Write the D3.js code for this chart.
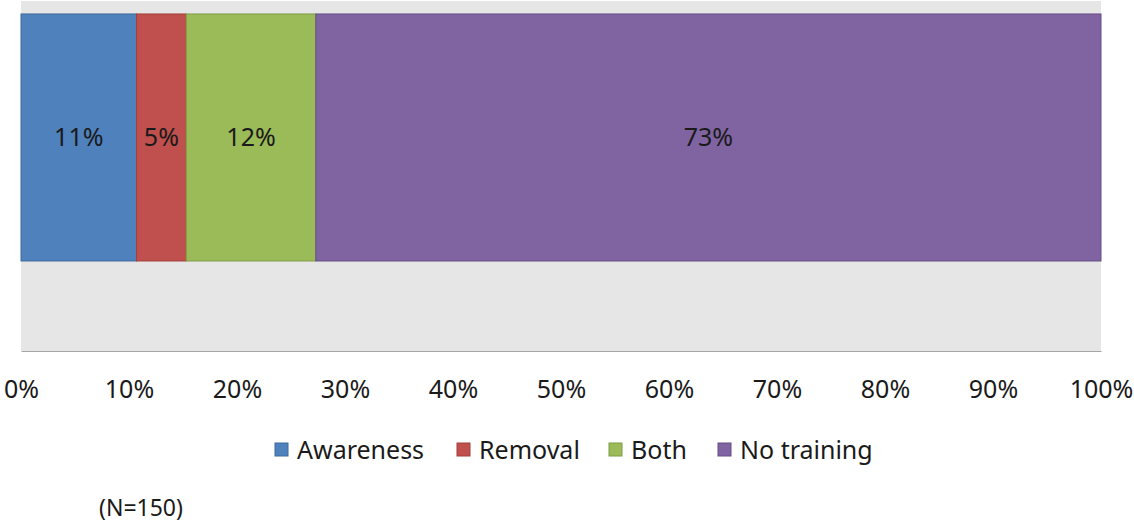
<!DOCTYPE html>
<html>
<head>
<meta charset="utf-8">
<script src="https://cdn.jsdelivr.net/npm/d3@7"></script>
<style>
  body { margin: 0; background: #fff; }
  text { font-family: "Noto Sans", "Open Sans", sans-serif; fill: #1a1a1a; }
</style>
</head>
<body>
<div id="chart-area"></div>
<script>
// chart data
var categories = ["Awareness", "Removal", "Both", "No training"];
var values = [10.7, 4.6, 12.0, 72.7];
var colors = ["#4f81bd", "#c0504d", "#9bbb59", "#8064a2"];
var borders = ["#3f6a9e", "#a23f3c", "#7f9c45", "#654d86"];
var tickValues = [0, 10, 20, 30, 40, 50, 60, 70, 80, 90, 100];
var note = "(N=150)";

var width = 1134, height = 522;
var plot = {left: 21, right: 1101, top: 1, bottom: 351};

var svg = d3.select("#chart-area")
  .append("svg")
    .attr("width", width)
    .attr("height", height);

// scales
var x = d3.scaleLinear()
  .domain([0, 100])
  .range([plot.left, plot.right]);

var y = d3.scaleBand()
  .domain(["all"])
  .range([plot.top, plot.bottom])
  .paddingInner(0)
  .paddingOuter(0.2085)
  .align(0.126);

// plot background
svg.append("rect")
  .attr("x", plot.left)
  .attr("y", plot.top)
  .attr("width", plot.right - plot.left)
  .attr("height", plot.bottom - plot.top)
  .attr("fill", "#e6e6e6");

// stacked segments
var segs = [];
var acc = 0;
values.forEach(function(v, i){
  segs.push({name: categories[i], start: acc, end: acc + v, value: v, i: i});
  acc += v;
});

svg.selectAll("rect.seg")
  .data(segs)
  .enter()
  .append("rect")
    .attr("class", "seg")
    .attr("x", function(d){ return x(d.start); })
    .attr("y", y("all"))
    .attr("width", function(d){ return x(d.end) - x(d.start); })
    .attr("height", y.bandwidth())
    .attr("fill", function(d){ return colors[d.i]; })
    .attr("stroke", function(d){ return borders[d.i]; })
    .attr("stroke-width", 1);

svg.selectAll("text.lbl")
  .data(segs)
  .enter()
  .append("text")
    .attr("class", "lbl")
    .attr("x", function(d){ return (x(d.start) + x(d.end)) / 2; })
    .attr("y", y("all") + y.bandwidth() / 2)
    .attr("dy", "0.36em")
    .attr("text-anchor", "middle")
    .attr("font-size", "25px")
    .text(function(d){ return d3.format(".0f")(d.value) + "%"; });

// x axis
var xAxisCall = d3.axisBottom(x)
  .tickValues(tickValues)
  .tickSize(0)
  .tickPadding(29)
  .tickFormat(function(d){ return d + "%"; });

var xAxis = svg.append("g")
  .attr("class", "x axis")
  .attr("transform", "translate(0," + plot.bottom + ")")
  .call(xAxisCall);
xAxis.select(".domain").attr("stroke", "#a6a6a6");
xAxis.selectAll("text")
  .attr("font-size", "25px")
  .attr("fill", "#1a1a1a")
  .style("font-family", "'Noto Sans', 'Open Sans', sans-serif");

// legend
var legendX = [275, 457, 609, 718];
var legend = svg.selectAll("g.legend")
  .data(categories)
  .enter()
  .append("g")
    .attr("class", "legend")
    .attr("transform", function(d, i){ return "translate(" + legendX[i] + ",443)"; });

legend.append("rect")
  .attr("width", 13)
  .attr("height", 13)
  .attr("fill", function(d, i){ return colors[i]; })
  .attr("stroke", function(d, i){ return borders[i]; });

legend.append("text")
  .attr("x", 22)
  .attr("y", 7)
  .attr("dy", "0.36em")
  .attr("font-size", "25px")
  .text(function(d){ return d; });

// note
svg.append("text")
  .attr("x", 99)
  .attr("y", 508)
  .attr("dy", "0.36em")
  .attr("font-size", "23px")
  .text(note);
</script>
</body>
</html>
